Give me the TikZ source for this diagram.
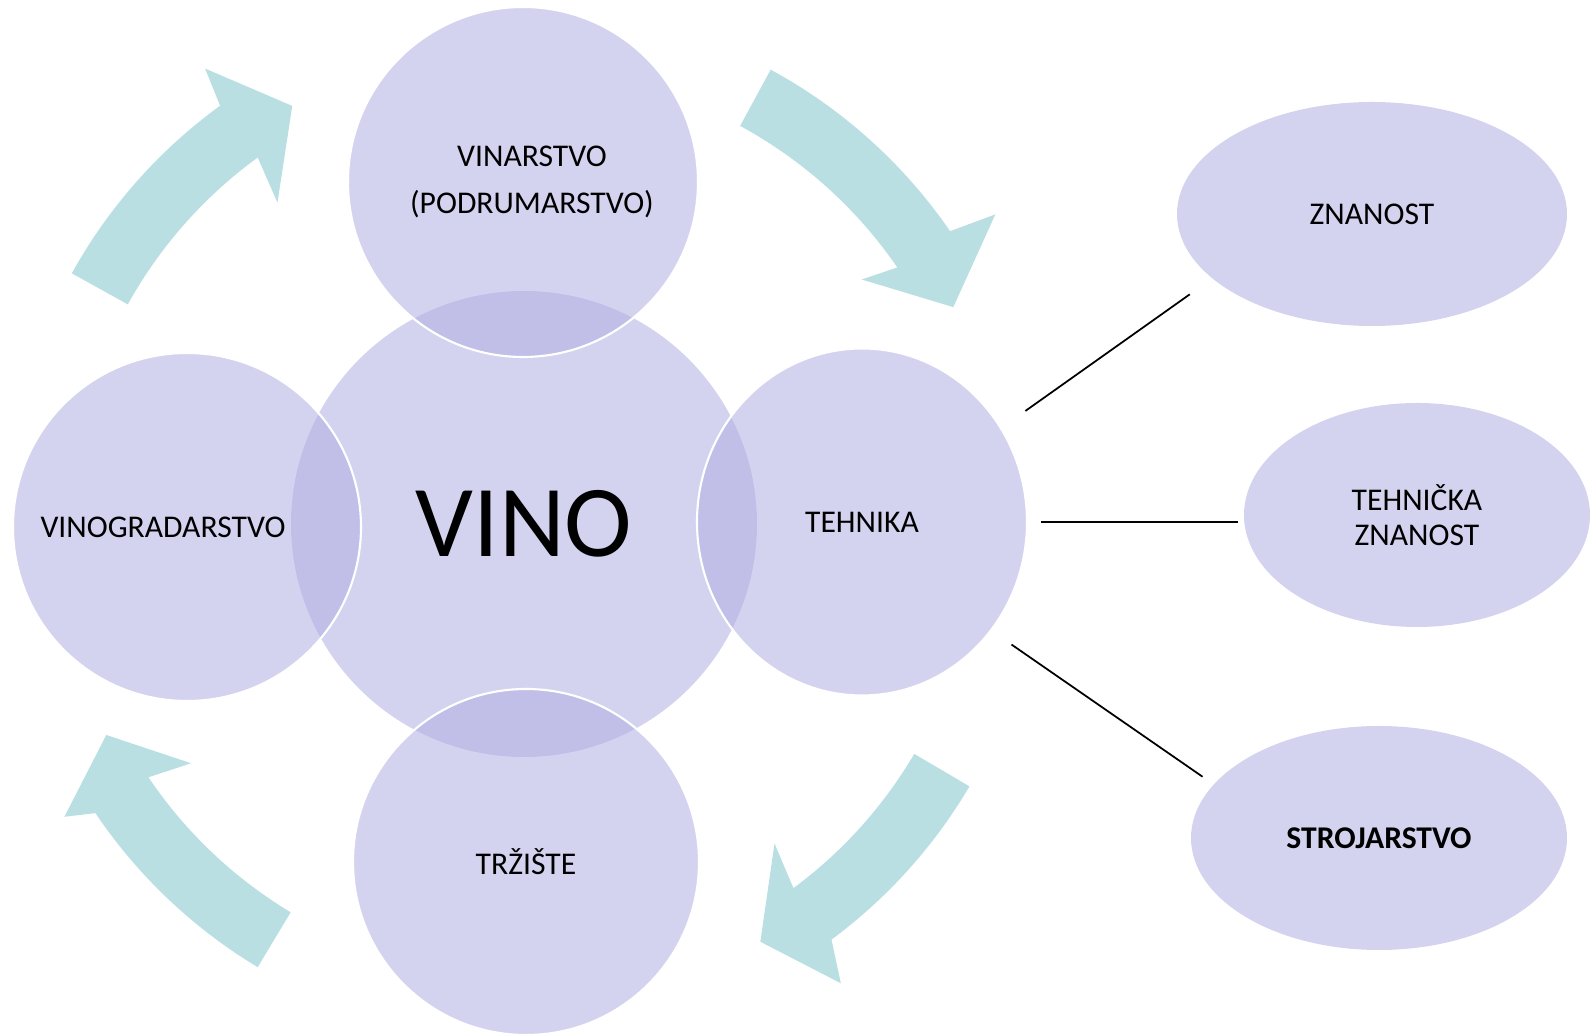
\documentclass[tikz,border=0pt]{standalone}
\usepackage{fontspec}
\setmainfont{Carlito}
\usetikzlibrary{shapes.geometric}
\definecolor{lila}{HTML}{AFADE1}
\definecolor{tirkiz}{HTML}{B9DFE2}

\begin{document}
\begin{tikzpicture}[
	krug/.style={circle, fill=lila, fill opacity=0.535, text opacity=1, inner sep=0pt, align=center, font=\fontsize{9}{13.6}\selectfont},
	rub/.style={draw=white, line width=0.6pt},
	elipsa/.style={ellipse, fill=lila, fill opacity=0.535, text opacity=1, inner sep=0pt, minimum height=2.24cm, align=center, font=\fontsize{9}{9.8}\selectfont},
	veza/.style={line width=0.5pt}
]
	\useasboundingbox (-5.24, -5.10) rectangle (10.66, 5.24);
	
	\coordinate (O) at (0, 0);
	
	\fill[tirkiz] (151:5.17) arc(151:126:5.17) -- (125:5.56) -- (119:4.78) -- (127.5:4.05) -- (126:4.53) arc(126:151:4.53) -- cycle;
	\fill[tirkiz] (61.5:5.17) arc(61.5:34.5:5.17) -- (33.3:5.64) -- (26.8:4.81) -- (35.9:4.17) -- (34.5:4.53) arc(34.5:61.5:4.53) -- cycle;
	\fill[tirkiz] (-30.5:5.17) arc(-30.5:-53.5:5.17) -- (-55.4:5.58) -- (-60.5:4.80) -- (-51.9:4.06) -- (-53.5:4.53) arc(-53.5:-30.5:4.53) -- cycle;
	\fill[tirkiz] (-121:5.17) arc(-121:-146:5.17) -- (-147.5:5.45) -- (-153.2:4.68) -- (-144.3:4.10) -- (-146:4.53) arc(-146:-121:4.53) -- cycle;
	
	\node[krug, minimum size=4.66cm, font=\fontsize{29}{34}\selectfont] (vino) at (O) {VINO};
	\node[krug, rub, minimum size=3.50cm] (vinarstvo) at (-0.01, 3.42) {\hspace*{0.18cm}VINARSTVO\\\hspace*{0.18cm}(PODRUMARSTVO)};
	\node[krug, rub, minimum size=3.48cm] (vinograd) at (-3.37, -0.03) {VINOGRADARSTVO\hspace*{0.48cm}};
	\node[krug, rub, ellipse, minimum width=3.30cm, minimum height=3.47cm] (tehnika) at (3.38, 0.02) {TEHNIKA};
	\node[krug, rub, minimum size=3.46cm] (trziste) at (0.02, -3.38) {TRŽIŠTE};
	
	\node[elipsa, minimum width=3.90cm] (znanost) at (8.48, 3.10) {ZNANOST};
	\node[elipsa, minimum width=3.46cm] (tznanost) at (8.93, 0.09) {TEHNIČKA\\ZNANOST};
	\node[elipsa, minimum width=3.76cm, font=\fontsize{9}{9.8}\selectfont\bfseries] (strojar) at (8.55, -3.14) {STROJARSTVO};
	
	\draw[veza, shorten <=0.29cm, shorten >=0.27cm] (tehnika.34) -- (znanost.202);
	\draw[veza, shorten <=0.13cm, shorten >=0.05cm] (tehnika.east) -- (tehnika.east -| tznanost.west);
	\draw[veza, shorten <=0.24cm, shorten >=0.13cm] (tehnika.-40) -- (strojar.162);
\end{tikzpicture}
\end{document}
